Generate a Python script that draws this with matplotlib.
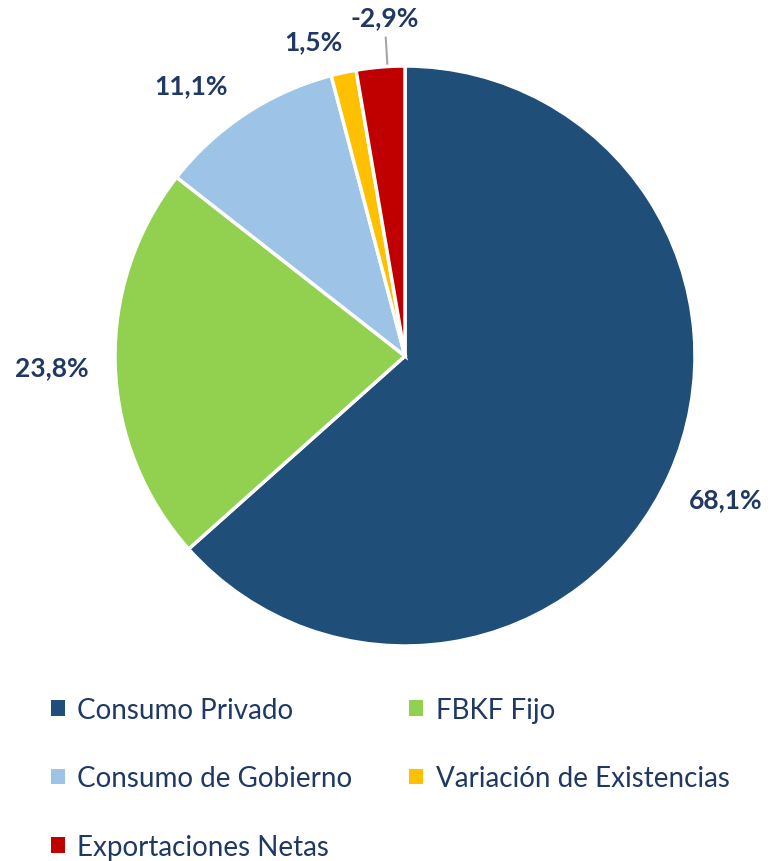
import numpy as np
import matplotlib.pyplot as plt
from matplotlib.patches import Patch

categories = ["Consumo Privado", "FBKF Fijo", "Consumo de Gobierno",
              "Variación de Existencias", "Exportaciones Netas"]
values = [68.1, 23.8, 11.1, 1.5, -2.9]
tick_labels = ["68,1%", "23,8%", "11,1%", "1,5%", "-2,9%"]

colors = ["#1F4E79", "#92D050", "#9DC3E6", "#FFC000", "#C00000"]
text_color = "#1F3864"
# label placement tweaks: (radius factor, angle nudge in degrees)
label_pos = [(1.21, 0), (1.22, 0), (1.19, 5), (1.13, 4), (1.17, -1.4)]

plt.rcParams["font.family"] = ["Lato", "DejaVu Sans"]

fig = plt.figure(figsize=(7.77, 8.62), dpi=100)
ax = fig.add_axes([0, 0, 1, 1])

cx, cy, r = 405, 862 - 357, 290
wedges, _ = ax.pie(np.abs(values), colors=colors, startangle=90, counterclock=False,
                   center=(cx, cy), radius=r, frame=True,
                   wedgeprops=dict(edgecolor="white", linewidth=2.5))
ax.set_xlim(0, 777)
ax.set_ylim(0, 862)
ax.set_aspect("equal")
ax.axis("off")

for i, w in enumerate(wedges):
    theta = np.deg2rad((w.theta1 + w.theta2) / 2 + label_pos[i][1])
    d = label_pos[i][0] * r
    x, y = cx + d * np.cos(theta), cy + d * np.sin(theta)
    ax.text(x, y, tick_labels[i], ha="center", va="center", fontsize=19,
            fontweight="bold", color=text_color)
    if values[i] < 0:
        ax.plot([cx + 1.01 * r * np.cos(theta), cx + 1.1 * r * np.cos(theta)],
                [cy + 1.01 * r * np.sin(theta), cy + 1.1 * r * np.sin(theta)],
                color="#A6A6A6", lw=1.5)

order = [0, 2, 4, 1, 3]
handles = [Patch(facecolor=colors[k], label=categories[k]) for k in order]
leg = fig.legend(handles=handles, ncol=2, loc="upper left",
                 bbox_to_anchor=(37 / 777, 1 - 684 / 862), frameon=False,
                 fontsize=20, handlelength=0.5, handleheight=0.5,
                 handletextpad=0.45, labelspacing=1.53, columnspacing=2.05,
                 borderpad=0)
for t in leg.get_texts():
    t.set_color(text_color)

fig.savefig("out.png", dpi=100)
